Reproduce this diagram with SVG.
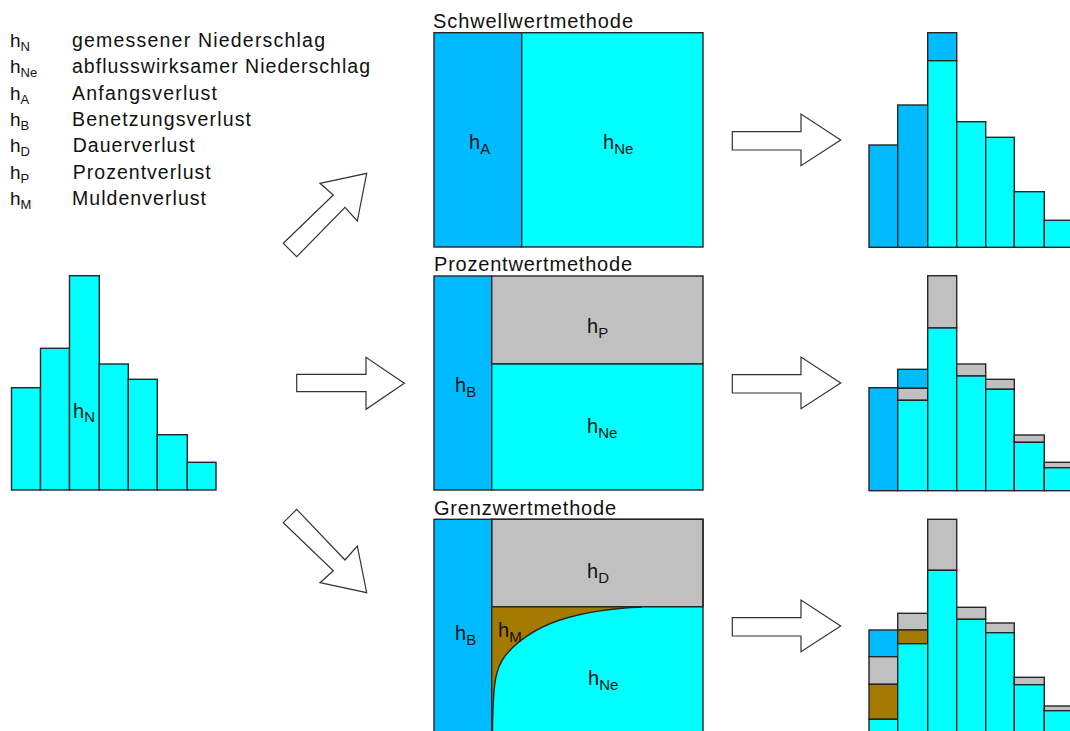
<svg xmlns="http://www.w3.org/2000/svg" width="1070" height="731" viewBox="0 0 1070 731">
<style>
text{font-family:"Liberation Sans",Arial,sans-serif;fill:#111}
.lg{font-size:19.5px}
.sym{font-size:19px}
.sub{font-size:13px}
.lbl{font-size:20px}
.lsub{font-size:15px}
.ttl{font-size:20px}
.c{fill:#00FFFF;stroke:#262626;stroke-width:1.4}
.b{fill:#00BBFF;stroke:#262626;stroke-width:1.4}
.g{fill:#C0C0C0;stroke:#262626;stroke-width:1.4}
.m{fill:#A57A00;stroke:#262626;stroke-width:1.4}
.arr{fill:#fff;stroke:#333;stroke-width:1.2;stroke-linejoin:miter}
.ln{fill:none;stroke:#262626;stroke-width:1.4}
</style>
<rect width="1070" height="731" fill="#fff"/>

<g id="legend">
<text class="sym" x="10" y="46.7">h<tspan class="sub" dy="4">N</tspan></text>
<text class="lg" x="72" y="46.7" textLength="253" lengthAdjust="spacing">gemessener Niederschlag</text>
<text class="sym" x="10" y="73.1">h<tspan class="sub" dy="4">Ne</tspan></text>
<text class="lg" x="72" y="73.1" textLength="298" lengthAdjust="spacing">abflusswirksamer Niederschlag</text>
<text class="sym" x="10" y="99.5">h<tspan class="sub" dy="4">A</tspan></text>
<text class="lg" x="72" y="99.5" textLength="145" lengthAdjust="spacing">Anfangsverlust</text>
<text class="sym" x="10" y="125.9">h<tspan class="sub" dy="4">B</tspan></text>
<text class="lg" x="72" y="125.9" textLength="179" lengthAdjust="spacing">Benetzungsverlust</text>
<text class="sym" x="10" y="152.3">h<tspan class="sub" dy="4">D</tspan></text>
<text class="lg" x="72.7" y="152.3" textLength="122" lengthAdjust="spacing">Dauerverlust</text>
<text class="sym" x="10" y="178.7">h<tspan class="sub" dy="4">P</tspan></text>
<text class="lg" x="72.7" y="178.7" textLength="138" lengthAdjust="spacing">Prozentverlust</text>
<text class="sym" x="10" y="205.1">h<tspan class="sub" dy="4">M</tspan></text>
<text class="lg" x="72" y="205.1" textLength="134" lengthAdjust="spacing">Muldenverlust</text>
</g>

<g id="input-histogram">
<rect class="c" x="11.5" y="387.7" width="29" height="102.3"/>
<rect class="c" x="40.5" y="348.3" width="29" height="141.7"/>
<rect class="c" x="69.5" y="275.7" width="29.8" height="214.3"/>
<rect class="c" x="99.3" y="364" width="29" height="126"/>
<rect class="c" x="128.3" y="379.3" width="29" height="110.7"/>
<rect class="c" x="157.3" y="434.7" width="30" height="55.3"/>
<rect class="c" x="187.3" y="462.3" width="28.7" height="27.7"/>
<text class="lbl" x="73" y="418.3">h<tspan class="lsub" dy="4">N</tspan></text>
</g>

<g id="connectors">
<polygon class="arr" points="283.3,243.3 333.3,195 320,183.3 366.7,173.3 357.3,221 345,207.3 296.7,256.7"/>
<polygon class="arr" points="296.7,374.3 366,374.3 366,357.3 404.3,383.3 366,409.3 366,391.7 296.7,391.7"/>
<polygon class="arr" points="296.7,509.3 345,560 357.3,546 366.7,592.7 320,582.7 333.3,570.7 283.3,522.7"/>
<polygon class="arr" points="732.3,131.7 801,131.7 801,114 840.7,140 801,165.7 801,150 732.3,150"/>
<polygon class="arr" points="732.3,374.7 801,374.7 801,357 840.7,383 801,408.7 801,393 732.3,393"/>
<polygon class="arr" points="732.3,617.7 801,617.7 801,600 840.7,626 801,651.7 801,636 732.3,636"/>
</g>

<g id="schwellwert-box">
<text class="ttl" x="433" y="28.3" textLength="200" lengthAdjust="spacing">Schwellwertmethode</text>
<rect class="b" x="434" y="32.7" width="87.7" height="214.3"/>
<rect class="c" x="521.7" y="32.7" width="181.3" height="214.3"/>
<text class="lbl" x="469" y="149.3">h<tspan class="lsub" dy="5">A</tspan></text>
<text class="lbl" x="603" y="149.3">h<tspan class="lsub" dy="5">Ne</tspan></text>
</g>

<g id="prozent-box">
<text class="ttl" x="434" y="270.7" textLength="198" lengthAdjust="spacing">Prozentwertmethode</text>
<rect class="b" x="434" y="276" width="57.7" height="214"/>
<rect class="g" x="491.7" y="276" width="211.3" height="88"/>
<rect class="c" x="491.7" y="364" width="211.3" height="126"/>
<text class="lbl" x="455" y="392.3">h<tspan class="lsub" dy="5">B</tspan></text>
<text class="lbl" x="587" y="333.3">h<tspan class="lsub" dy="5">P</tspan></text>
<text class="lbl" x="587" y="432.7">h<tspan class="lsub" dy="5">Ne</tspan></text>
</g>

<g id="grenzwert-box">
<text class="ttl" x="434" y="515" textLength="182" lengthAdjust="spacing">Grenzwertmethode</text>
<rect class="b" x="434" y="519.3" width="57.7" height="220"/>
<rect class="g" x="491.7" y="519.3" width="211.3" height="87.4"/>
<rect x="491.7" y="606.7" width="211.3" height="130" fill="#A57A00"/>
<path d="M492.5,740 L492.5,731 C493,680 496,668 505,656 C515,643 535,628 560,620 C585,612 615,608 642,607 L703,607 L703,740 Z" fill="#00FFFF"/>
<path class="ln" d="M492.5,731 C493,680 496,668 505,656 C515,643 535,628 560,620 C585,612 615,608 642,607"/>
<rect class="ln" x="491.7" y="519.3" width="211.3" height="220"/>
<line class="ln" x1="491.7" y1="606.7" x2="703" y2="606.7"/>
<text class="lbl" x="455" y="640">h<tspan class="lsub" dy="5">B</tspan></text>
<text class="lbl" x="587" y="578.3">h<tspan class="lsub" dy="5">D</tspan></text>
<text class="lbl" x="498" y="637.3">h<tspan class="lsub" dy="5">M</tspan></text>
<text class="lbl" x="588" y="685">h<tspan class="lsub" dy="5">Ne</tspan></text>
</g>

<g id="result-schwellwert">
<rect class="b" x="869" y="145" width="28.7" height="102.3"/>
<rect class="b" x="897.7" y="105" width="30" height="142.3"/>
<rect class="b" x="927.7" y="32.7" width="29" height="28"/>
<rect class="c" x="927.7" y="60.7" width="29" height="186.6"/>
<rect class="c" x="956.7" y="121.7" width="29" height="125.6"/>
<rect class="c" x="985.7" y="137.3" width="28.6" height="110"/>
<rect class="c" x="1014.3" y="191.7" width="30" height="55.6"/>
<rect class="c" x="1044.3" y="220.3" width="29" height="27"/>
</g>

<g id="result-prozent">
<rect class="b" x="869" y="387.7" width="28.7" height="103"/>
<rect class="b" x="897.7" y="369.3" width="30" height="19"/>
<rect class="g" x="897.7" y="388.3" width="30" height="12"/>
<rect class="c" x="897.7" y="400.3" width="30" height="90.4"/>
<rect class="g" x="927.7" y="275.7" width="29" height="52.3"/>
<rect class="c" x="927.7" y="328" width="29" height="162.7"/>
<rect class="g" x="956.7" y="364" width="29" height="12"/>
<rect class="c" x="956.7" y="376" width="29" height="114.7"/>
<rect class="g" x="985.7" y="379.3" width="28.6" height="10"/>
<rect class="c" x="985.7" y="389.3" width="28.6" height="101.4"/>
<rect class="g" x="1014.3" y="435" width="30" height="7.3"/>
<rect class="c" x="1014.3" y="442.3" width="30" height="48.4"/>
<rect class="g" x="1044.3" y="462.3" width="29" height="5.4"/>
<rect class="c" x="1044.3" y="467.7" width="29" height="23"/>
</g>

<g id="result-grenzwert">
<rect class="b" x="869" y="630" width="28.7" height="26.7"/>
<rect class="g" x="869" y="656.7" width="28.7" height="27.6"/>
<rect class="m" x="869" y="684.3" width="28.7" height="35"/>
<rect class="c" x="869" y="719.3" width="28.7" height="20"/>
<rect class="g" x="897.7" y="613.3" width="30" height="16.7"/>
<rect class="m" x="897.7" y="630" width="30" height="13.7"/>
<rect class="c" x="897.7" y="643.7" width="30" height="96"/>
<rect class="g" x="927.7" y="519.3" width="29" height="51"/>
<rect class="c" x="927.7" y="570.3" width="29" height="170"/>
<rect class="g" x="956.7" y="607.3" width="29" height="12"/>
<rect class="c" x="956.7" y="619.3" width="29" height="120"/>
<rect class="g" x="985.7" y="623" width="28.6" height="9.7"/>
<rect class="c" x="985.7" y="632.7" width="28.6" height="107"/>
<rect class="g" x="1014.3" y="677.3" width="30" height="7.4"/>
<rect class="c" x="1014.3" y="684.7" width="30" height="55"/>
<rect class="g" x="1044.3" y="706" width="29" height="4.7"/>
<rect class="c" x="1044.3" y="710.7" width="29" height="29"/>
</g>
</svg>
